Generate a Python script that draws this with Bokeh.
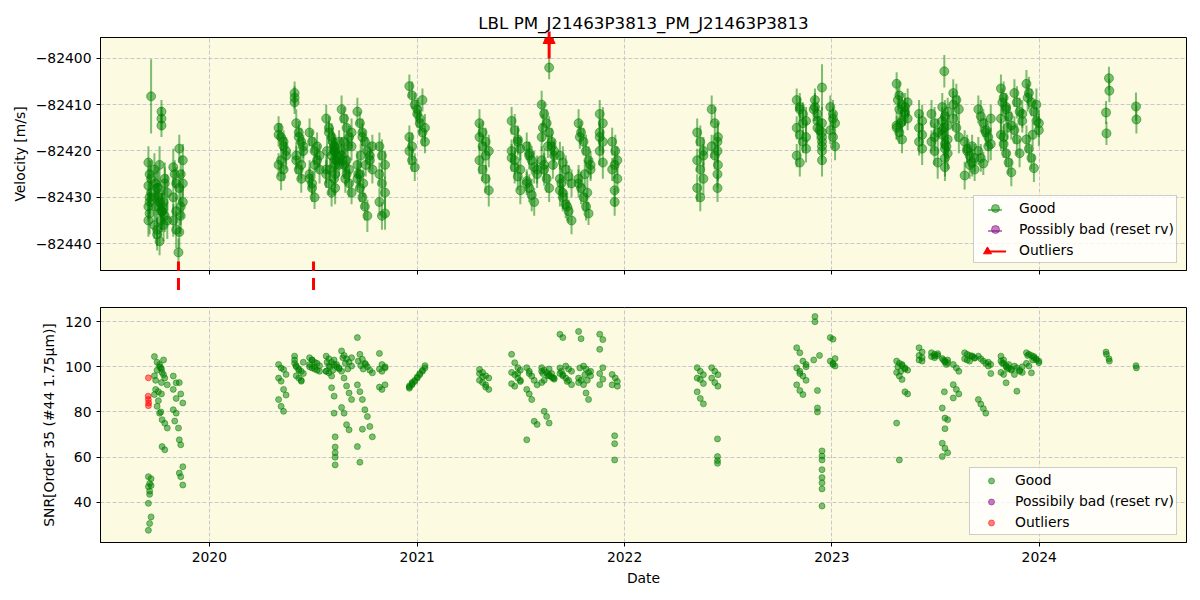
import numpy as np
from datetime import datetime
from bokeh.plotting import figure
from bokeh.layouts import column
from bokeh.models import (ColumnDataSource, Range1d, FixedTicker, CustomJSTickFormatter,
                          DatetimeTickFormatter, Arrow, NormalHead, TeeHead, Legend, LegendItem)
from bokeh.embed import file_html
from bokeh.resources import INLINE

# ---------------- data (decimal years, RV [m/s], RV error, SNR) ----------------
t_2019 = [2019.706, 2019.712, 2019.706, 2019.712, 2019.706, 2019.719, 2019.712, 2019.706, 2019.719, 2019.719, 2019.712,
          2019.735, 2019.748, 2019.760, 2019.772, 2019.785, 2019.797, 2019.735, 2019.748, 2019.760, 2019.772,
          2019.785, 2019.797, 2019.735, 2019.748, 2019.760, 2019.772, 2019.785, 2019.769, 2019.769, 2019.769,
          2019.741, 2019.754, 2019.766, 2019.779, 2019.741, 2019.754, 2019.766, 2019.779,
          2019.826, 2019.840, 2019.826, 2019.840, 2019.826, 2019.840, 2019.833,
          2019.851, 2019.855, 2019.862, 2019.872, 2019.855, 2019.862, 2019.872, 2019.855, 2019.862, 2019.872]
rv_2019 = [-82422.5, -82425, -82427.5, -82430, -82432, -82408.2, -82433.5, -82435, -82429, -82426, -82431,
           -82424, -82428, -82431, -82433, -82426, -82435, -82430, -82437, -82423, -82432,
           -82434, -82429, -82436, -82438, -82439.5, -82433, -82427, -82411.5, -82413, -82414.5,
           -82427, -82430, -82433, -82436, -82432, -82428, -82435, -82431,
           -82423.5, -82427, -82430, -82433, -82435, -82437, -82425,
           -82441.9, -82437.5, -82434, -82431, -82428, -82425, -82422, -82419.5, -82432, -82427]
err_2019 = [3.5, 3.0, 4.0, 3.5, 3.0, 8.0, 4.5, 3.5, 3.0, 4.0, 3.0,
            3.5, 4.0, 3.0, 4.5, 3.5, 4.0, 3.0, 3.5, 4.0, 3.0,
            3.5, 4.0, 3.0, 3.5, 3.0, 4.0, 3.5, 2.5, 2.5, 2.5,
            3.5, 3.0, 4.0, 3.5, 3.0, 4.0, 3.5, 3.0,
            4.0, 3.5, 4.0, 3.0, 3.5, 4.0, 3.0,
            3.0, 3.5, 4.0, 3.5, 3.0, 4.0, 3.5, 3.0, 4.0, 3.0]
snr_2019 = [51.4, 48.4, 47.0, 43.6, 39.6, 33.6, 30.7, 27.7, 50.5, 47.5, 45.0,
            104.5, 102.0, 100.0, 97.5, 95.0, 92.0, 87.7, 82.5, 79.5, 76.6,
            75.0, 72.9, 96.0, 98.5, 101.0, 64.7, 63.3, 99.0, 93.0, 88.0,
            90.0, 85.0, 80.0, 96.5, 94.0, 89.0, 99.5, 103.0,
            95.9, 92.9, 90.0, 86.0, 81.0, 79.5, 76.0,
            72.9, 67.7, 65.5, 55.8, 53.0, 51.4, 47.7, 93.0, 88.0, 84.0]

t_2020 = [2020.333, 2020.345, 2020.357, 2020.369, 2020.333, 2020.345, 2020.357, 2020.369, 2020.333, 2020.345, 2020.357,
          2020.410, 2020.410, 2020.410, 2020.418, 2020.430, 2020.442, 2020.452, 2020.418, 2020.430, 2020.442, 2020.452, 2020.418, 2020.430, 2020.442,
          2020.482, 2020.494, 2020.506, 2020.518, 2020.530, 2020.482, 2020.494, 2020.506, 2020.518, 2020.530, 2020.482, 2020.494, 2020.506,
          2020.562, 2020.575, 2020.588, 2020.600, 2020.612, 2020.624, 2020.562, 2020.575, 2020.588, 2020.600, 2020.612, 2020.624, 2020.562, 2020.575,
          2020.588, 2020.600, 2020.600, 2020.605, 2020.605, 2020.605, 2020.605, 2020.605,
          2020.636, 2020.648, 2020.660, 2020.672, 2020.684, 2020.636, 2020.648, 2020.660, 2020.672, 2020.684, 2020.636, 2020.648, 2020.660, 2020.672, 2020.684,
          2020.712, 2020.724, 2020.736, 2020.748, 2020.760, 2020.772, 2020.784, 2020.712, 2020.724, 2020.736, 2020.748, 2020.760, 2020.772, 2020.784, 2020.712, 2020.724, 2020.736,
          2020.818, 2020.830, 2020.845, 2020.818, 2020.830, 2020.845, 2020.818, 2020.830, 2020.845,
          2020.566, 2020.580, 2020.594, 2020.642, 2020.654, 2020.666, 2020.716, 2020.728, 2020.740, 2020.752]
rv_2020 = [-82415, -82417, -82419, -82421, -82423, -82425.5, -82418, -82420, -82416.5, -82422, -82424,
           -82407.5, -82408.5, -82409.5, -82414, -82416, -82418, -82420, -82422, -82424, -82426, -82419, -82421, -82417, -82423,
           -82416, -82418, -82420, -82422, -82424, -82426, -82428, -82430, -82419, -82421, -82425, -82427, -82423,
           -82413, -82415, -82417, -82419, -82421, -82423, -82425, -82427, -82429, -82420, -82422, -82418, -82424, -82416,
           -82421, -82426, -82419, -82423, -82428, -82422, -82425, -82420,
           -82411, -82413, -82415, -82417, -82419, -82421, -82423, -82425, -82427, -82429, -82420, -82418, -82422, -82424, -82416,
           -82411.5, -82414, -82416, -82418, -82420, -82422, -82424, -82426, -82428, -82430, -82432, -82434, -82421, -82419, -82423, -82425, -82417,
           -82419, -82421, -82423, -82425, -82427, -82429, -82431, -82434, -82433.5,
           -82420, -82424, -82418, -82422, -82426, -82419, -82425, -82421, -82427, -82423]
err_2020 = [2.5, 3, 2.5, 3, 2.5, 3, 2.5, 3, 2.5, 3, 2.5,
            2.5, 2.5, 2.5, 3, 2.5, 3, 2.5, 3, 2.5, 3, 2.5, 3, 2.5, 3,
            3, 2.5, 3, 2.5, 3, 2.5, 3, 2.5, 3, 2.5, 3, 2.5, 3,
            3, 2.5, 3, 2.5, 3, 2.5, 3, 2.5, 3, 2.5, 3, 2.5, 3, 2.5,
            3.5, 3.5, 3, 3.5, 3.5, 3, 3, 3,
            3, 2.5, 3, 2.5, 3, 2.5, 3, 2.5, 3, 2.5, 3, 2.5, 3, 2.5, 3,
            3, 2.5, 3, 2.5, 3, 2.5, 3, 2.5, 3, 2.5, 3, 3.5, 3, 2.5, 3, 2.5, 3,
            3, 3.5, 3, 2.5, 3, 3.5, 3, 3, 3.5,
            3, 2.5, 3, 2.5, 3, 2.5, 3, 2.5, 3, 2.5]
snr_2020 = [101, 99.5, 98.8, 96.6, 95, 93.6, 90, 87.5, 85.5, 82.5, 80.3,
            104.7, 103, 101.5, 100, 99, 98, 97, 96, 95, 94, 102, 100.5, 98.5, 93.6,
            104, 103, 102, 101.5, 100.5, 100, 99.5, 99, 98.5, 98, 101, 103, 100,
            104.7, 103.5, 102, 101, 100, 99, 98, 97.3, 95.9, 103, 101, 99.5, 98, 100.5,
            90.7, 87, 79.5, 69, 56.6, 64.5, 62, 60,
            107, 105, 103.5, 102, 100.3, 98, 95, 91.5, 88.4, 85.5, 82, 79.5, 74.4, 72.1, 104,
            112.9, 105.5, 103.3, 101.5, 100, 98.5, 97.3, 92, 89, 85.5, 81, 78, 73.6, 69, 64.7, 57.8, 72.4,
            105.9, 101, 100, 99, 98, 92, 91, 90, 99.5,
            102, 100, 98.5, 104, 101.5, 99, 102.5, 100.5, 99, 101]

t_2021 = [2020.962, 2020.975, 2020.988, 2021.000, 2021.012, 2021.025, 2021.037, 2020.962, 2020.975, 2020.988, 2021.000, 2021.012, 2021.025, 2021.037, 2020.962, 2020.975,
          2021.300, 2021.315, 2021.330, 2021.345, 2021.300, 2021.315, 2021.330, 2021.345, 2021.300, 2021.315, 2021.330,
          2021.455, 2021.470, 2021.485, 2021.497, 2021.455, 2021.470, 2021.485, 2021.497, 2021.455, 2021.470, 2021.485, 2021.497,
          2021.528, 2021.540, 2021.552, 2021.564, 2021.578, 2021.528, 2021.540, 2021.552, 2021.564, 2021.578, 2021.528, 2021.540,
          2021.600, 2021.612, 2021.624, 2021.636, 2021.648, 2021.660, 2021.600, 2021.612, 2021.624, 2021.636, 2021.648, 2021.660, 2021.600, 2021.612, 2021.636, 2021.636,
          2021.688, 2021.702, 2021.716, 2021.730, 2021.744, 2021.688, 2021.702, 2021.716, 2021.730, 2021.744, 2021.688, 2021.702,
          2021.778, 2021.790, 2021.802, 2021.814, 2021.826, 2021.836, 2021.778, 2021.790, 2021.802, 2021.814, 2021.826, 2021.836, 2021.778,
          2021.880, 2021.895, 2021.880, 2021.895, 2021.880, 2021.895, 2021.880,
          2021.940, 2021.955, 2021.965, 2021.940, 2021.965, 2021.952, 2021.952, 2021.952,
          2021.606, 2021.630, 2021.654, 2021.695, 2021.723, 2021.784, 2021.808, 2021.820]
rv_2021 = [-82406, -82408, -82410, -82412, -82414, -82416, -82418, -82420, -82422, -82423.5, -82411, -82413, -82409, -82415, -82417, -82419,
           -82414, -82416, -82418, -82420, -82422, -82424, -82426, -82428.5, -82417, -82419, -82421,
           -82413.5, -82415.5, -82417.5, -82419.5, -82421.5, -82423.5, -82425.5, -82428.5, -82420, -82422, -82418, -82424,
           -82419, -82420.5, -82422, -82423.5, -82425, -82426.5, -82428, -82429.5, -82431, -82424, -82427, -82421,
           -82410, -82412, -82414, -82416, -82418, -82420, -82422, -82424, -82426, -82428, -82419, -82421, -82417, -82423, -82402, -82396,
           -82421, -82422.5, -82424, -82425.5, -82427, -82428.5, -82430, -82431.5, -82433, -82435, -82426, -82429,
           -82414, -82416, -82418, -82420, -82422, -82424, -82426, -82428, -82430, -82432, -82433.5, -82423, -82427,
           -82412, -82414, -82416, -82418, -82420, -82422.5, -82417,
           -82418, -82420, -82422, -82424, -82426, -82428.5, -82431, -82423,
           -82415, -82419, -82423, -82427, -82432, -82417, -82425, -82429]
err_2021 = [2.5, 3, 2.5, 3, 2.5, 3, 2.5, 3, 2.5, 3, 2.5, 3, 2.5, 3, 2.5, 3,
            3, 2.5, 3, 3.5, 3, 2.5, 3, 3.5, 3, 2.5, 3,
            3, 3.5, 3, 2.5, 3, 3.5, 3, 3, 2.5, 3, 3, 3.5,
            3, 2.5, 3, 3.5, 3, 2.5, 3, 3.5, 3, 3, 2.5, 3,
            3, 2.5, 3, 3.5, 3, 2.5, 3, 3.5, 3, 3, 2.5, 3, 3, 3.5, 2.5, 2.0,
            3, 3.5, 3, 2.5, 3, 3.5, 3, 3, 2.5, 3, 3, 3.5,
            3, 2.5, 3, 3.5, 3, 2.5, 3, 3.5, 3, 3, 2.5, 3, 3,
            3, 3.5, 3, 2.5, 3, 3.5, 3,
            3, 3.5, 3, 2.5, 3, 3.5, 3, 3,
            3, 2.5, 3, 3.5, 3, 2.5, 3, 3.5]
snr_2021 = [90.5, 92, 93.5, 95, 96.5, 98, 99.5, 91, 92.5, 94, 95.5, 97, 98.5, 100.5, 91.5, 93,
            98.8, 97.5, 96, 95, 94, 93, 92, 90, 97, 95.5, 91,
            105.5, 101.8, 99.6, 98.5, 97.5, 96.5, 95, 93.5, 92.5, 91.4, 97, 94,
            99.6, 98, 95.9, 94, 92, 90, 88, 85.5, 75.9, 74.5, 67.7, 97,
            99.6, 98.5, 97.5, 96.5, 95.5, 94.5, 93, 80.3, 78, 75.1, 97, 95, 98, 94, 96, 99,
            114.4, 112.9, 100.3, 99, 98, 97, 96, 95, 94, 92.1, 99.5, 96.5,
            115.6, 112.4, 100.3, 99, 97.5, 96, 95, 94, 92.1, 88.4, 85.5, 98, 93,
            114.4, 112, 107.7, 99.6, 97, 94.5, 92.1,
            96.6, 95, 93.5, 92, 91.4, 69.5, 66, 58.8,
            97, 96, 95, 98, 93.5, 99.5, 96.5, 94]

t_2022 = [2022.350, 2022.365, 2022.380, 2022.350, 2022.365, 2022.380, 2022.350, 2022.365, 2022.380,
          2022.420, 2022.435, 2022.450, 2022.420, 2022.435, 2022.450, 2022.448, 2022.448, 2022.448, 2022.448,
          2022.830, 2022.845, 2022.860, 2022.875, 2022.830, 2022.845, 2022.860, 2022.875, 2022.830, 2022.845, 2022.860, 2022.875, 2022.845,
          2022.918, 2022.918, 2022.930, 2022.930, 2022.930, 2022.952, 2022.952, 2022.952, 2022.952, 2022.952, 2022.952, 2022.952, 2022.952, 2022.912, 2022.940,
          2022.992, 2023.005, 2023.015, 2022.992, 2023.005, 2023.015, 2023.005]
rv_2022 = [-82416, -82418, -82420, -82422, -82424, -82426, -82428, -82430, -82421,
           -82411, -82414, -82417, -82419, -82421, -82423, -82425, -82428, -82420, -82418,
           -82409, -82410.5, -82412, -82413.5, -82415, -82416.5, -82418, -82419.5, -82421, -82422.5, -82414, -82417, -82411,
           -82409, -82410.5, -82412, -82413.5, -82415, -82406.3, -82416, -82418, -82420, -82422, -82417, -82414, -82419, -82411, -82415.5,
           -82410.5, -82412, -82414, -82415.5, -82417, -82419, -82413]
err_2022 = [3, 3.5, 3, 2.5, 3, 3.5, 3, 3, 2.5,
            3, 3.5, 3, 2.5, 3, 3.5, 3, 3, 2.5, 4.5,
            2.5, 3, 2.5, 3, 2.5, 3, 2.5, 3, 2.5, 3, 2.5, 3, 2.5,
            2.5, 3, 2.5, 3, 2.5, 5, 3, 3.5, 3, 3.5, 3, 3.5, 3, 2.5, 3,
            2.5, 3, 2.5, 3, 2.5, 3, 2.5]
snr_2022 = [99.6, 98, 96.5, 95, 94.4, 92.6, 88.9, 86, 83.6,
            99.6, 98, 96.5, 95, 93, 91.4, 68.1, 60.3, 58.5, 57.3,
            108.4, 106.2, 102.5, 101, 99.5, 98, 95.9, 94, 92, 89.5, 87.7, 100, 97,
            122.2, 119.9, 89.5, 81.8, 80, 62.8, 60.5, 58.8, 54.5, 51, 48.7, 46, 38.4, 103, 105,
            112.9, 112.2, 103.6, 102.5, 101.5, 100.3, 101]

t_2023 = [2023.312, 2023.325, 2023.338, 2023.352, 2023.365, 2023.312, 2023.325, 2023.338, 2023.352, 2023.365, 2023.312, 2023.325, 2023.338, 2023.352,
          2023.420, 2023.435, 2023.420, 2023.435, 2023.420, 2023.435,
          2023.480, 2023.495, 2023.510, 2023.480, 2023.495, 2023.510, 2023.495,
          2023.532, 2023.545, 2023.558, 2023.542, 2023.532, 2023.545, 2023.558, 2023.545, 2023.532, 2023.545, 2023.558, 2023.532, 2023.545, 2023.558,
          2023.585, 2023.600, 2023.612, 2023.585, 2023.600, 2023.612, 2023.585,
          2023.640, 2023.652, 2023.664, 2023.676, 2023.688, 2023.640, 2023.652, 2023.664, 2023.676, 2023.688,
          2023.706, 2023.718, 2023.730, 2023.742, 2023.754, 2023.766, 2023.706, 2023.718, 2023.730, 2023.742, 2023.754, 2023.766,
          2023.815, 2023.828, 2023.840, 2023.852, 2023.865, 2023.815, 2023.828, 2023.840, 2023.852, 2023.865, 2023.815, 2023.828, 2023.840,
          2023.880, 2023.892, 2023.905, 2023.918, 2023.880, 2023.892, 2023.905, 2023.918,
          2023.938, 2023.950, 2023.962, 2023.974, 2023.986, 2023.998, 2023.938, 2023.950, 2023.962, 2023.974, 2023.986, 2023.998,
          2023.318, 2023.332, 2023.538, 2023.552, 2023.822, 2023.846, 2023.944, 2023.968]
rv_2023 = [-82405.5, -82408, -82410, -82411.5, -82413, -82414.5, -82416, -82417.5, -82412, -82409.5, -82415, -82411, -82413.5, -82410.5,
           -82412, -82413.5, -82415, -82416.5, -82418, -82419.5,
           -82412, -82414, -82416, -82418, -82420, -82422.5, -82417,
           -82410.5, -82412.5, -82414.5, -82402.8, -82416.5, -82418.5, -82420.5, -82423.5, -82415.5, -82419.5, -82417.5, -82413.5, -82421.5, -82411.5,
           -82407.5, -82409, -82411, -82413, -82415, -82417, -82410,
           -82418, -82419.5, -82421, -82422.5, -82424, -82425.3, -82420, -82423, -82419, -82421.5,
           -82411, -82412.5, -82414, -82415.5, -82417, -82418.5, -82420, -82421.5, -82422.7, -82416, -82419, -82413,
           -82406.5, -82408.5, -82410.5, -82412.5, -82414.5, -82416.5, -82418.5, -82420.5, -82422.5, -82424.6, -82413, -82417, -82411,
           -82407.5, -82409.5, -82411.5, -82413.5, -82415.5, -82417.5, -82420.5, -82412,
           -82405.5, -82407.5, -82409.5, -82411.5, -82413.5, -82415.5, -82417.5, -82419.5, -82421.5, -82423.7, -82410, -82414,
           -82409, -82414, -82415, -82419, -82409.5, -82415, -82408.5, -82416.5]
err_2023 = [2.5, 3, 2.5, 3, 2.5, 3, 2.5, 3, 2.5, 3, 2.5, 3, 2.5, 3,
            3, 3.5, 3, 2.5, 3, 3.5,
            3, 3.5, 3, 2.5, 3, 3.5, 3,
            3, 3.5, 3, 3.5, 2.5, 3, 3.5, 3, 4, 3, 3.5, 3, 4, 3,
            3, 3.5, 3, 2.5, 3, 3.5, 3,
            2.5, 3, 2.5, 3, 2.5, 3, 2.5, 3, 2.5, 3,
            3, 3.5, 3, 2.5, 3, 3.5, 3, 3, 2.5, 3, 3.5, 3,
            3, 3.5, 3, 2.5, 3, 3.5, 3, 3, 2.5, 3, 3.5, 3, 3,
            3, 3.5, 3, 2.5, 3, 3.5, 3, 3,
            3, 3.5, 3, 2.5, 3, 3.5, 3, 3, 2.5, 3, 3.5, 3,
            2.5, 3, 3, 3.5, 3, 2.5, 3, 2.5]
snr_2023 = [102.5, 101.5, 100.5, 99.5, 98.5, 97.5, 95.9, 94.4, 88.9, 88, 75.1, 58.8, 101, 99,
            108.4, 106.5, 105, 104, 103, 102.5,
            106.2, 105.5, 105, 104.5, 104, 105.8, 104.8,
            103.6, 102.5, 101.8, 88.9, 81.8, 77.3, 76.6, 72.6, 66.2, 64, 62, 60.3, 102, 103,
            101, 99.5, 98, 92.1, 90, 88, 86.2,
            106.2, 105.5, 105, 104.5, 104, 103.5, 103, 102.5, 104.8, 103.8,
            104.7, 103.5, 102.5, 101.5, 100.3, 97, 85.5, 83.5, 81.5, 79.5, 102, 101,
            102.5, 101.5, 100.5, 99.5, 98.5, 97.5, 96.6, 92.9, 101, 99, 104.7, 103, 100,
            100.3, 99.5, 98.5, 97.5, 96.6, 89.2, 98, 100,
            106.2, 105.5, 105, 104, 103, 102.5, 101.5, 100.3, 97.3, 104.5, 103.5, 101.8,
            100, 98, 103, 101, 101.5, 99, 105, 103]

t_2024 = [2024.321, 2024.323, 2024.335, 2024.337, 2024.465, 2024.467]
rv_2024 = [-82411.7, -82416.2, -82404.3, -82407, -82410.4, -82413.2]
err_2024 = [2.5, 2.5, 2.5, 2.5, 3, 3]
snr_2024 = [106.5, 105.5, 103.5, 102.5, 100.5, 99.5]

# SNR points flagged as outliers (red) and RV outliers beyond the axis (arrows)
t_snr_out = [2019.706, 2019.705, 2019.706, 2019.707, 2019.706]
snr_out = [95.1, 87.0, 85.5, 84.0, 82.8]
t_rv_out = [2019.851, 2020.501, 2021.636]
rv_out_dir = ["down", "down", "up"]

year_ticks = [2020, 2021, 2022, 2023, 2024]
rv_ticks = [-82440, -82430, -82420, -82410, -82400]
snr_ticks = [40, 60, 80, 100, 120]

# ---------------- helpers ----------------
EPOCH = datetime(1970, 1, 1)


def dec_to_ms(y):
    yr = int(np.floor(y))
    a = datetime(yr, 1, 1)
    b = datetime(yr + 1, 1, 1)
    d = a + (b - a) * (y - yr)
    return (d - EPOCH).total_seconds() * 1000.0


t_all = t_2019 + t_2020 + t_2021 + t_2022 + t_2023 + t_2024
rv_all = np.array(rv_2019 + rv_2020 + rv_2021 + rv_2022 + rv_2023 + rv_2024)
err_all = np.array(err_2019 + err_2020 + err_2021 + err_2022 + err_2023 + err_2024)
snr_all = snr_2019 + snr_2020 + snr_2021 + snr_2022 + snr_2023 + snr_2024
x_all = [dec_to_ms(v) for v in t_all]

src = ColumnDataSource(dict(x=x_all, rv=rv_all, lo=rv_all - err_all, hi=rv_all + err_all, snr=snr_all))
src_out = ColumnDataSource(dict(x=[dec_to_ms(v) for v in t_snr_out], snr=snr_out))
nan_src = ColumnDataSource(dict(x=[np.nan], y=[np.nan]))  # legend-only proxies

FONT = "DejaVu Sans"
BG = "#fcfae1"
GREEN = "#008000"
PURPLE = "#800080"
x_range = Range1d(dec_to_ms(2019.475), dec_to_ms(2024.708))
rv_range = Range1d(-82445.8, -82395.5)
snr_range = Range1d(22.3, 126.2)
xticker = FixedTicker(ticks=[dec_to_ms(y) for y in year_ticks], minor_ticks=[])
minus_fmt = CustomJSTickFormatter(code="return tick < 0 ? '\\u2212' + Math.abs(tick).toFixed(0) : tick.toFixed(0);")

# frame geometry (pixels) of the top panel, used for pixel-sized arrow parts
FRAME_W, TOP_FRAME_H = 1086, 233
xspan = x_range.end - x_range.start
ymin, ymax = rv_range.start, rv_range.end
yspan = ymax - ymin


def dpx(n):
    return n * xspan / FRAME_W


def dpy(n):
    return n * yspan / TOP_FRAME_H


def style(p):
    p.background_fill_color = BG
    p.border_fill_color = "white"
    p.outline_line_color = "black"
    p.outline_line_alpha = 1.0
    p.outline_line_width = 1
    for ax in p.axis:
        ax.axis_line_color = "black"
        ax.major_tick_line_color = "black"
        ax.major_tick_out = 4
        ax.major_tick_in = 0
        ax.minor_tick_out = 0
        ax.minor_tick_in = 0
        ax.major_label_text_font = FONT
        ax.major_label_text_font_size = "13.9px"
        ax.major_label_text_color = "black"
        ax.axis_label_text_font = FONT
        ax.axis_label_text_font_size = "13.9px"
        ax.axis_label_text_font_style = "normal"
        ax.axis_label_text_color = "black"
    for g in p.grid:
        g.grid_line_color = "#c8c8c8"
        g.grid_line_dash = "4 2"
        g.grid_line_width = 1


def style_legend(lg):
    lg.label_text_font = FONT
    lg.label_text_font_size = "13.9px"
    lg.label_text_color = "black"
    lg.border_line_color = "#cccccc"
    lg.border_line_alpha = 1.0
    lg.background_fill_color = "white"
    lg.background_fill_alpha = 0.8
    lg.padding = 2
    lg.spacing = 1
    lg.margin = 0
    lg.glyph_width = 38
    lg.glyph_height = 20
    lg.label_standoff = 5
    lg.label_height = 20


def overlay_legend(items, w, h, loc):
    """transparent, label-less legend used only to draw extra glyph strokes"""
    return Legend(items=items, location=loc, padding=0, margin=0, spacing=0,
                  glyph_width=w, glyph_height=h, label_standoff=0, label_height=h,
                  label_text_font_size="1px", background_fill_alpha=0.0, border_line_alpha=0.0)


# ---------------- top panel: velocity ----------------
p1 = figure(width=1200, height=290, x_range=x_range, y_range=rv_range, x_axis_type="datetime",
            output_backend="svg", toolbar_location=None,
            min_border_left=100, min_border_right=14, min_border_top=37, min_border_bottom=20)
p1.title.text = "LBL PM_J21463P3813_PM_J21463P3813"
p1.title.align = "center"
p1.title.text_font = FONT
p1.title.text_font_size = "16.7px"
p1.title.text_font_style = "normal"
p1.title.text_color = "black"
p1.title.standoff = 9
p1.xaxis.ticker = xticker
p1.xaxis.formatter = CustomJSTickFormatter(code="return '';")
p1.yaxis.ticker = FixedTicker(ticks=rv_ticks, minor_ticks=[])
p1.yaxis.formatter = minus_fmt
p1.yaxis.axis_label = "Velocity [m/s]"
style(p1)

p1.segment(x0="x", y0="lo", x1="x", y1="hi", source=src, line_color=GREEN, line_alpha=0.5, line_width=2)
p1.scatter(x="x", y="rv", source=src, size=9, fill_color=GREEN, fill_alpha=0.5, line_color=GREEN, line_alpha=0.5)

# outlier arrows (beyond the axis limits)
for tv, d in zip(t_rv_out, rv_out_dir):
    xm = dec_to_ms(tv)
    if d == "down":
        y0, y1 = ymin + dpy(9), ymin - dpy(19.5)
        # shaft part below the frame (drawn as a perpendicular "tee" of a tiny horizontal arrow)
        p1.add_layout(Arrow(start=None, end=TeeHead(size=14, line_color="red", line_width=3),
                            x_start=xm - dpx(2), y_start=ymin - dpy(6), x_end=xm, y_end=ymin - dpy(6),
                            line_alpha=0.0, level="overlay"))
    else:
        y0, y1 = ymax - dpy(21), ymax + dpy(6)
    p1.add_layout(Arrow(end=NormalHead(size=12, fill_color="red", line_color="red", line_width=1),
                        x_start=xm, y_start=y0, x_end=xm, y_end=y1,
                        line_color="red", line_width=3, level="overlay"))

# legend
lg_good_c = p1.scatter(x="x", y="y", source=nan_src, size=9, fill_color=GREEN, fill_alpha=0.5, line_color=GREEN, line_alpha=0.5)
lg_bad_c = p1.scatter(x="x", y="y", source=nan_src, size=9, fill_color=PURPLE, fill_alpha=0.5, line_color=PURPLE, line_alpha=0.5)
lg_blank = p1.line(x="x", y="y", source=nan_src, line_color="red", line_alpha=0.0)
leg1 = Legend(items=[LegendItem(label="Good", renderers=[lg_good_c]),
                     LegendItem(label="Possibly bad (reset rv)", renderers=[lg_bad_c]),
                     LegendItem(label="Outliers", renderers=[lg_blank])])
style_legend(leg1)
LX, LY = 873, 7                       # legend box bottom-left inside the frame (px)
leg1.location = (LX, LY)
p1.add_layout(leg1)

# item centres of leg1 measured from the frame bottom, glyph centre x inside the frame
cy = [LY + 66 - 2 - 10, LY + 66 - 2 - 31, LY + 66 - 2 - 52]
cx = LX + 2 + 19
lg_good_b = p1.scatter(x="x", y="y", source=nan_src, marker="dash", angle=np.pi / 2, size=14,
                       line_color=GREEN, line_alpha=0.5, line_width=2)
lg_bad_b = p1.scatter(x="x", y="y", source=nan_src, marker="dash", angle=np.pi / 2, size=14,
                      line_color=PURPLE, line_alpha=0.5, line_width=2)
p1.add_layout(overlay_legend([LegendItem(label=" ", renderers=[lg_good_b])], 35, 35, (cx - 17.5, cy[0] - 17.5)))
p1.add_layout(overlay_legend([LegendItem(label=" ", renderers=[lg_bad_b])], 35, 35, (cx - 17.5, cy[1] - 17.5)))
lg_out_line = p1.line(x="x", y="y", source=nan_src, line_color="red", line_width=2)
lg_out_head = p1.scatter(x="x", y="y", source=nan_src, marker="triangle", angle=np.pi / 2, size=9,
                         fill_color="red", line_color="red", line_width=1)
p1.add_layout(overlay_legend([LegendItem(label=" ", renderers=[lg_out_line])], 21, 20, (cx - 9, cy[2] - 10)))
p1.add_layout(overlay_legend([LegendItem(label=" ", renderers=[lg_out_head])], 20, 20, (cx - 17, cy[2] - 10)))

# ---------------- bottom panel: SNR ----------------
p2 = figure(width=1200, height=310, x_range=x_range, y_range=snr_range, x_axis_type="datetime",
            output_backend="svg", toolbar_location=None,
            min_border_left=100, min_border_right=14, min_border_top=17, min_border_bottom=58)
p2.xaxis.ticker = xticker
p2.xaxis.formatter = DatetimeTickFormatter(years="%Y", months="%Y", days="%Y", hours="%Y",
                                           minutes="%Y", seconds="%Y", milliseconds="%Y")
p2.xaxis.axis_label = "Date"
p2.yaxis.ticker = FixedTicker(ticks=snr_ticks, minor_ticks=[])
p2.yaxis.axis_label = "SNR[Order 35 (#44 1.75μm)]"
style(p2)

p2.scatter(x="x", y="snr", source=src, size=6, fill_color=GREEN, fill_alpha=0.5,
           line_color=GREEN, line_alpha=0.5)
p2.scatter(x="x", y="snr", source=src_out, size=6, fill_color="red", fill_alpha=0.5,
           line_color="red", line_alpha=0.5)
lg_good2 = p2.scatter(x="x", y="y", source=nan_src, size=6, fill_color=GREEN, fill_alpha=0.5, line_color=GREEN, line_alpha=0.5)
lg_bad2 = p2.scatter(x="x", y="y", source=nan_src, size=6, fill_color=PURPLE, fill_alpha=0.5, line_color=PURPLE, line_alpha=0.5)
lg_out2 = p2.scatter(x="x", y="y", source=nan_src, size=6, fill_color="red", fill_alpha=0.5, line_color="red", line_alpha=0.5)
leg2 = Legend(items=[LegendItem(label="Good", renderers=[lg_good2]),
                     LegendItem(label="Possibily bad (reset rv)", renderers=[lg_bad2]),
                     LegendItem(label="Outliers", renderers=[lg_out2])])
style_legend(leg2)
leg2.glyph_height = 15
leg2.location = (869, 7)
p2.add_layout(leg2)

layout = column(p1, p2, spacing=0)
open("out.html", "w").write(file_html(layout, INLINE))
